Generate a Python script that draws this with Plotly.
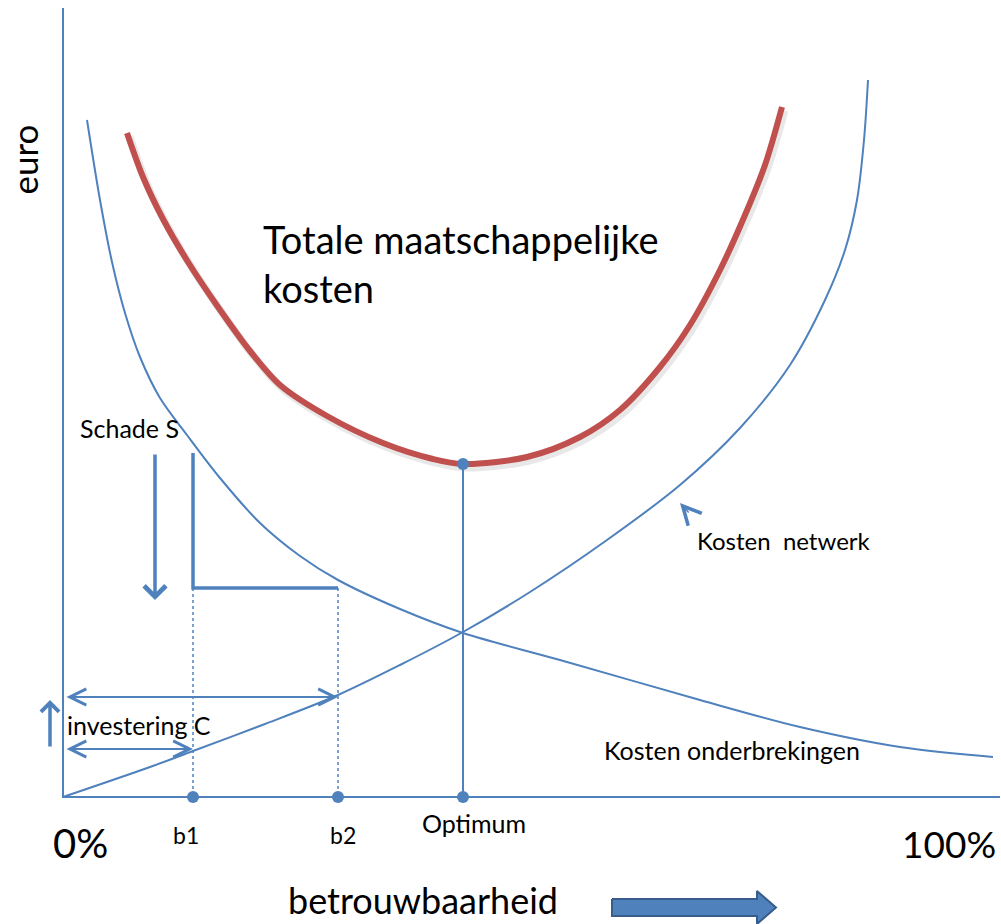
import plotly.graph_objects as go

# ---------------- data (x: betrouwbaarheid units, y: euro units) ----------------
total_x = [6.4, 8.0, 10.0, 12.5, 15.5, 18.7, 21.7, 26.4, 32.0, 37.0, 40.0, 46.4, 51.7, 55.7, 59.7, 62.7, 65.7, 68.2, 70.2, 71.9]
total_y = [66.4, 62.0, 57.8, 53.5, 49.0, 44.6, 41.2, 38.1, 35.4, 33.8, 33.3, 34.0, 36.0, 38.7, 43.0, 47.2, 52.7, 58.2, 63.2, 69.0]

onderbr_x = [2.4, 3.7, 4.9, 6.2, 7.7, 9.7, 12.4, 15.7, 19.7, 23.7, 27.5, 33.7, 40.0, 49.7, 63.7, 73.7, 83.7, 93.0]
onderbr_y = [67.7, 59.7, 53.5, 48.4, 44.0, 39.9, 36.2, 31.9, 27.4, 24.1, 21.7, 18.8, 16.4, 13.7, 9.7, 7.0, 5.0, 4.0]

netwerk_x = [0.0, 8.7, 13.0, 20.2, 27.5, 33.7, 40.0, 46.7, 54.4, 61.7, 67.7, 72.7, 76.2, 78.2, 79.4, 80.1, 80.5]
netwerk_y = [0.0, 3.0, 4.6, 7.3, 10.2, 13.2, 16.5, 20.5, 25.7, 31.2, 36.9, 43.2, 49.7, 54.7, 59.7, 65.7, 71.7]

b1, b2, optimum = 13.0, 27.5, 40.0
optimum_cost = 33.3
schade_top, schade_level = 34.4, 20.9
invest_b1, invest_b2 = 4.8, 10.0
x_axis_end, y_axis_end = 93.7, 78.9

point_labels = ["b1", "b2", "Optimum"]
end_labels = ["0%", "100%"]

BLUE = "#4F81BD"
RED = "#C0504D"
FONT = "Lato"

fig = go.Figure()

# axes
fig.add_trace(go.Scatter(x=[0, 0, x_axis_end], y=[y_axis_end, 0, 0], mode="lines",
                         line=dict(color=BLUE, width=2)))

# curves
fig.add_trace(go.Scatter(x=onderbr_x, y=onderbr_y, mode="lines", line_shape="spline",
                         line=dict(color=BLUE, width=2, smoothing=0.9)))
fig.add_trace(go.Scatter(x=netwerk_x, y=netwerk_y, mode="lines", line_shape="spline",
                         line=dict(color=BLUE, width=2, smoothing=0.9)))
# shadow of total cost
fig.add_trace(go.Scatter(x=[v + 0.25 for v in total_x], y=[v - 0.35 for v in total_y], mode="lines",
                         line_shape="spline", line=dict(color="rgba(0,0,0,0.09)", width=8, smoothing=0.9)))
fig.add_trace(go.Scatter(x=total_x, y=total_y, mode="lines", line_shape="spline",
                         line=dict(color=RED, width=6, smoothing=0.9)))

# dotted verticals
for bx in (b1, b2):
    fig.add_trace(go.Scatter(x=[bx, bx], y=[schade_level, 0], mode="lines",
                             line=dict(color=BLUE, width=1.5, dash="dot")))
# schade bracket
fig.add_trace(go.Scatter(x=[b1, b1, b2], y=[schade_top, schade_level, schade_level], mode="lines",
                         line=dict(color=BLUE, width=3.5)))
# optimum vertical
fig.add_trace(go.Scatter(x=[optimum, optimum], y=[optimum_cost, 0], mode="lines",
                         line=dict(color=BLUE, width=2)))
# dots
fig.add_trace(go.Scatter(x=[b1, b2, optimum, optimum], y=[0, 0, 0, optimum_cost], mode="markers",
                         marker=dict(color=BLUE, size=12)))

# big block arrow next to "betrouwbaarheid"
ax0, ax1, ax2 = 54.9, 69.4, 71.3
ay_c, body_h, head_h = -11.05, 0.85, 1.65
fig.add_trace(go.Scatter(
    x=[ax0, ax1, ax1, ax2, ax1, ax1, ax0, ax0],
    y=[ay_c + body_h, ay_c + body_h, ay_c + head_h, ay_c, ay_c - head_h, ay_c - body_h, ay_c - body_h, ay_c + body_h],
    mode="lines", fill="toself", fillcolor=BLUE, line=dict(color="#385D8A", width=2)))

def arrow(x, y, axx, ayy, width, head=5, size=1.0, both=False):
    fig.add_annotation(x=x, y=y, ax=axx, ay=ayy, xref="x", yref="y", axref="x", ayref="y",
                       text="", showarrow=True, arrowhead=head, arrowsize=size, arrowwidth=width,
                       arrowcolor=BLUE, standoff=0, startstandoff=0,
                       arrowside="end+start" if both else "end", startarrowhead=head, startarrowsize=size)

# Schade S downward arrow
arrow(9.2, 19.7, 9.2, 34.4, 3.5, head=4, size=1.2)
# investering C upward arrow
arrow(-1.3, 9.7, -1.3, 4.9, 3.5, head=4, size=1.0)
# double arrows for investments
arrow(b2, invest_b2, 0.2, invest_b2, 2, head=5, size=1.6, both=True)
arrow(b1, invest_b1, 0.2, invest_b1, 2, head=5, size=1.6, both=True)
# small arrow pointing at network cost curve
arrow(61.7, 29.4, 62.7, 28.3, 1.5, head=5, size=2.4)

def label(text, x, y, size, xanchor="center", yanchor="middle", angle=0, family=FONT):
    fig.add_annotation(x=x, y=y, xref="x", yref="y", text=text, showarrow=False,
                       xanchor=xanchor, yanchor=yanchor, textangle=angle, borderpad=0,
                       font=dict(family=family, size=size, color="black"), align="left")

label("euro", -3.95, 63.7, 35, angle=-90)
label("Totale maatschappelijke<br>kosten", 19.9, 53.4, 38, xanchor="left")
label("Schade S", 1.6, 36.9, 25, xanchor="left")
label("investering C", 0.3, 7.2, 25, xanchor="left")
label("Kosten  netwerk", 63.3, 25.7, 24, xanchor="left")
label("Kosten onderbrekingen", 54.0, 4.7, 25, xanchor="left")
label(point_labels[0], 12.3, -3.8, 23)
label(point_labels[1], 28.0, -3.8, 23)
label(point_labels[2], 41.1, -2.6, 25)
label(end_labels[0], -1.1, -4.6, 40, xanchor="left")
label(end_labels[1], 93.4, -4.6, 37, xanchor="right")
label("betrouwbaarheid", 36.0, -10.3, 36)

fig.update_layout(
    width=1001, height=924,
    margin=dict(l=0, r=0, t=0, b=0),
    plot_bgcolor="white", paper_bgcolor="white",
    showlegend=False,
    xaxis=dict(range=[-6.3, 93.8], visible=False, fixedrange=True),
    yaxis=dict(range=[-12.7, 79.7], visible=False, fixedrange=True),
)

fig.write_html("out.html", config={"displayModeBar": False},
               post_script="document.body.style.margin='0';")
